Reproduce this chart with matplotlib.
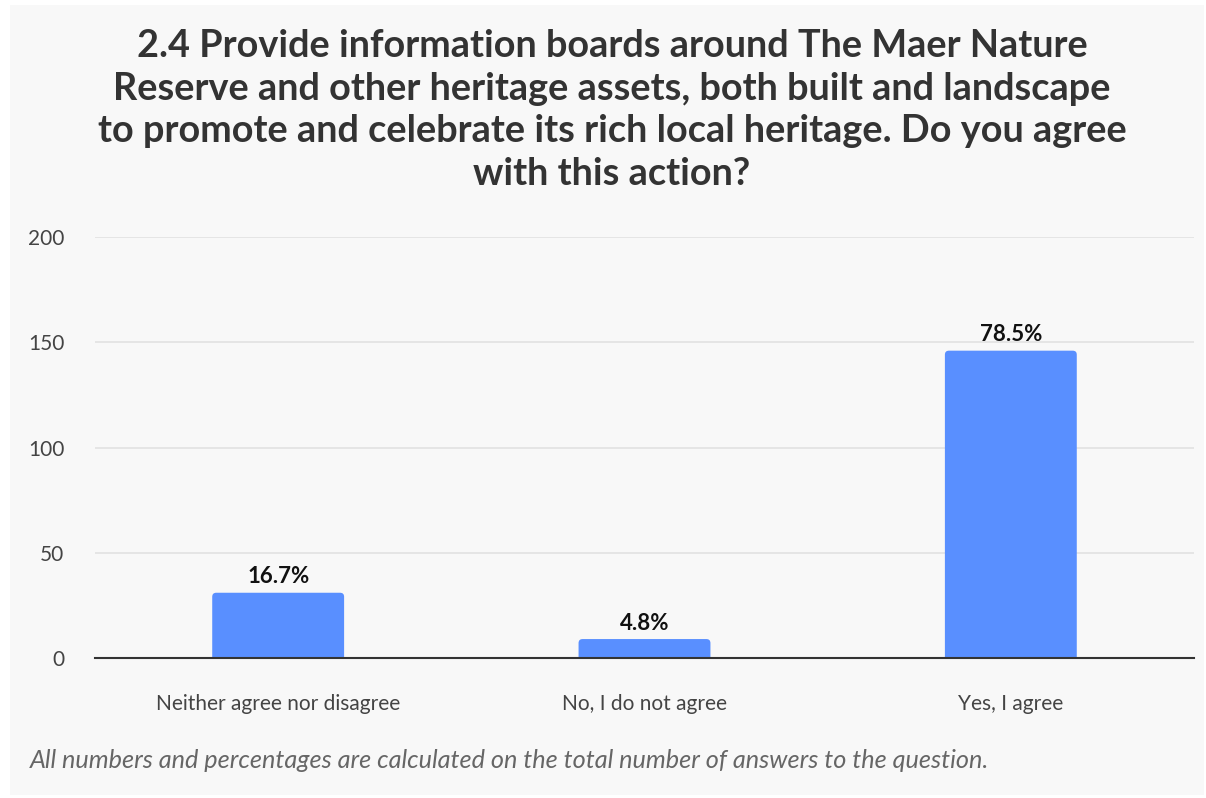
import matplotlib.pyplot as plt
from matplotlib.patches import Rectangle, FancyBboxPatch

plt.rcParams['font.family'] = ['Lato', 'DejaVu Sans']

# survey answers
categories = ['Neither agree nor disagree', 'No, I do not agree', 'Yes, I agree']
counts = [31, 9, 146]
shares = ['16.7%', '4.8%', '78.5%']
yticks = [0, 50, 100, 150, 200]

title = ("2.4 Provide information boards around The Maer Nature\n"
         "Reserve and other heritage assets, both built and landscape\n"
         "to promote and celebrate its rich local heritage. Do you agree\n"
         "with this action?")
note = "All numbers and percentages are calculated on the total number of answers to the question."

W, H = 1206, 798
fig = plt.figure(figsize=(W / 100, H / 100), dpi=100, facecolor='white')

# light grey card behind everything
fig.patches.append(Rectangle((10 / W, 3 / H), 1194 / W, 790 / H,
                             transform=fig.transFigure, facecolor='#f8f8f8',
                             edgecolor='none', zorder=-10))

ax = fig.add_axes([95 / W, 1 - 658 / H, 1099 / W, (658 - 237) / H])
ax.set_facecolor('none')
ax.set_xlim(-0.5, 2.5)
ax.set_ylim(0, 200)

x = range(len(categories))
bars = ax.bar(x, counts, width=0.36, color='#598fff', zorder=3)

# swap the plain rectangles for ones with slightly rounded corners
rad = 0.011            # ~4 px along x
aspect = 1.9 / rad     # same radius along y
for b in bars:
    b.set_visible(False)
    rb = FancyBboxPatch((b.get_x(), -5), b.get_width(), b.get_height() + 5,
                        boxstyle=f'round,pad=0,rounding_size={rad}',
                        mutation_aspect=aspect, facecolor='#598fff',
                        edgecolor='none', zorder=3)
    ax.add_patch(rb)

for b, s in zip(bars, shares):
    ax.text(b.get_x() + b.get_width() / 2, b.get_height() + 2.5, s,
            ha='center', va='bottom', fontsize=16, fontweight='bold',
            color='#111111', zorder=4)

ax.set_yticks(yticks)
ax.set_xticks(list(x))
ax.set_xticklabels(categories)
ax.tick_params(axis='both', length=0, labelsize=15, colors='#444444')
ax.tick_params(axis='y', pad=22)
ax.tick_params(axis='x', pad=26)
ax.grid(axis='y', color='#e4e4e4', linewidth=1.3, zorder=0)
for side in ['top', 'right', 'left']:
    ax.spines[side].set_visible(False)
ax.spines['bottom'].set_color('#333333')
ax.spines['bottom'].set_linewidth(1.5)
ax.spines['bottom'].set_zorder(5)

fig.text(612 / W, 1 - 110 / H, title, ha='center', va='center',
         fontsize=27.3, fontweight='bold', color='#333333', linespacing=1.3)
fig.text(30 / W, 1 - 761 / H, note, ha='left', va='center',
         fontsize=18.2, style='italic', color='#666666')

fig.savefig('out.png', dpi=100, facecolor='white')
